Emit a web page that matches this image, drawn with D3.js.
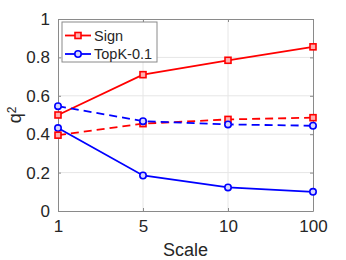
<html>
<head>
<script src="https://d3js.org/d3.v7.min.js"></script>
<style>
body {margin:0; background:white;}
text {font-family: 'Liberation Sans', Arial, sans-serif; fill:#262626;}
</style>
</head>
<body>
<div id="chart"></div>
<script>
// data
var scales = ["1", "5", "10", "100"];
var yTicks = [0, 0.2, 0.4, 0.6, 0.8, 1];
var signSolid = [0.50, 0.71, 0.785, 0.855];
var signDashed = [0.395, 0.455, 0.477, 0.486];
var topkSolid = [0.432, 0.185, 0.123, 0.10];
var topkDashed = [0.546, 0.468, 0.451, 0.444];
var legendNames = ["Sign", "TopK-0.1"];

var W = 346, H = 260;
var plotL = 58, plotR = 313, plotT = 19, plotB = 211;

var svg = d3.select("#chart").append("svg").attr("width", W).attr("height", H);

var x = d3.scalePoint().domain(scales).range([plotL, plotR]);
var y = d3.scaleLinear().domain([0, 1]).range([plotB, plotT]);

// grid
svg.append("g").selectAll("line").data(yTicks.slice(1, -1)).enter().append("line")
  .attr("x1", plotL).attr("x2", plotR)
  .attr("y1", function(d){return y(d);}).attr("y2", function(d){return y(d);})
  .attr("stroke", "#e6e6e6").attr("stroke-width", 1);
svg.append("g").selectAll("line").data(scales.slice(1, -1)).enter().append("line")
  .attr("y1", plotT).attr("y2", plotB)
  .attr("x1", function(d){return x(d);}).attr("x2", function(d){return x(d);})
  .attr("stroke", "#e6e6e6").attr("stroke-width", 1);

// axes (ticks inside, like matlab)
svg.append("g").attr("transform", "translate(" + plotL + ",0)")
  .call(d3.axisLeft(y).tickValues(yTicks).tickFormat(d3.format("")).tickSizeInner(-3).tickSizeOuter(0).tickPadding(8));
svg.append("g").attr("transform", "translate(0," + plotB + ")")
  .call(d3.axisBottom(x).tickSizeInner(-3).tickSizeOuter(0).tickPadding(9));
svg.append("g").attr("transform", "translate(" + plotR + ",0)")
  .call(d3.axisRight(y).tickValues(yTicks).tickFormat("").tickSizeInner(-3).tickSizeOuter(0));
svg.append("g").attr("transform", "translate(0," + plotT + ")")
  .call(d3.axisTop(x).tickFormat("").tickSizeInner(-3).tickSizeOuter(0));

svg.selectAll(".domain").attr("stroke", "#8a8a8a");
svg.selectAll(".tick line").attr("stroke", "#8a8a8a");
svg.selectAll(".tick text").style("font-size", "17px").attr("fill", "#262626")
  .style("font-family", "'Liberation Sans', Arial, sans-serif");

// axis labels
svg.append("text").attr("x", (plotL + plotR) / 2).attr("y", 256)
  .attr("text-anchor", "middle").style("font-size", "18px").text("Scale");
var ql = svg.append("text").attr("transform", "translate(21,115) rotate(-90)")
  .attr("text-anchor", "middle").style("font-size", "18px");
ql.append("tspan").text("q");
ql.append("tspan").attr("dy", "-0.45em").style("font-size", "12px").text("2");

// series
var series = [
  {v: signSolid, color: "red", dash: null, marker: "square"},
  {v: topkSolid, color: "blue", dash: null, marker: "circle"},
  {v: signDashed, color: "red", dash: "8,5", marker: "square"},
  {v: topkDashed, color: "blue", dash: "8,5", marker: "circle"}
];
var line = d3.line().x(function(d, i){return x(scales[i]);}).y(function(d){return y(d);});

function drawMarker(g, type, cx, cy, color) {
  if (type == "square") {
    g.append("rect").attr("x", cx - 3).attr("y", cy - 3).attr("width", 6).attr("height", 6)
      .attr("fill", "#ffb0b0").attr("stroke", color).attr("stroke-width", 1.6);
  } else {
    g.append("circle").attr("cx", cx).attr("cy", cy).attr("r", 3.2)
      .attr("fill", "#d6d6ff").attr("stroke", color).attr("stroke-width", 1.6);
  }
}

series.forEach(function(s) {
  svg.append("path").datum(s.v).attr("d", line).attr("fill", "none")
    .attr("stroke", s.color).attr("stroke-width", 1.8)
    .attr("stroke-dasharray", s.dash);
  var g = svg.append("g");
  s.v.forEach(function(d, i) { drawMarker(g, s.marker, x(scales[i]), y(d), s.color); });
});

// legend
var leg = svg.append("g");
leg.append("rect").attr("x", 62).attr("y", 22).attr("width", 95).attr("height", 40)
  .attr("fill", "white").attr("stroke", "#8a8a8a").attr("stroke-width", 1);
legendNames.forEach(function(n, i) {
  var cy = 35.5 + i * 18.5;
  var col = i == 0 ? "red" : "blue";
  leg.append("line").attr("x1", 65).attr("x2", 91).attr("y1", cy).attr("y2", cy)
    .attr("stroke", col).attr("stroke-width", 1.8);
  drawMarker(leg, i == 0 ? "square" : "circle", 78, cy, col);
  leg.append("text").attr("x", 94).attr("y", cy).attr("dy", "0.36em")
    .style("font-size", "14.5px").text(n);
});
</script>
</body>
</html>
